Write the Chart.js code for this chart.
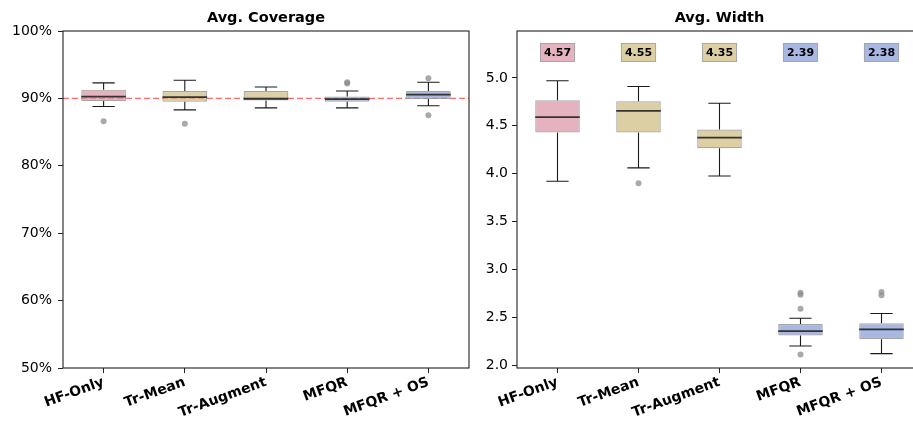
<!DOCTYPE html>
<html>
<head>
<meta charset="utf-8">
<script src="https://cdn.jsdelivr.net/npm/chart.js@4/dist/chart.umd.min.js"></script>
<style>
  html, body { margin: 0; padding: 0; background: #fff; overflow: hidden; }
  #wrap { position: relative; width: 913px; height: 423px; overflow: hidden; }
  #covBox { position: absolute; left: 0; top: 0; }
  #widBox { position: absolute; left: 480px; top: 0; }
</style>
</head>
<body>
<div id="wrap">
  <div id="covBox"><canvas id="cov" width="480" height="423"></canvas></div>
  <div id="widBox"><canvas id="wid" width="450" height="423"></canvas></div>
</div>
<script>
// Methods compared in both panels
const categories = ['HF-Only', 'Tr-Mean', 'Tr-Augment', 'MFQR', 'MFQR + OS'];

// Box fill per method
const boxFill = ['rgba(219,150,166,0.72)', 'rgba(207,188,128,0.72)', 'rgba(207,188,128,0.72)', 'rgba(135,157,215,0.72)', 'rgba(135,157,215,0.72)'];

// Avg. Coverage (%) summary statistics
const covQ1 = [89.6, 89.5, 89.7, 89.5, 89.9];
const covMedian = [90.25, 90.2, 89.95, 89.9, 90.55];
const covQ3 = [91.3, 91.1, 91.1, 90.3, 91.1];
const covLow = [88.8, 88.3, 88.6, 88.6, 88.9];
const covHigh = [92.3, 92.7, 91.7, 91.1, 92.4];
const covOutliers = [[86.6], [86.25], [], [92.2, 92.4], [93.0, 87.5]];
const covTarget = 90;
const covTicks = [50, 60, 70, 80, 90, 100];

// Avg. Width summary statistics
const widQ1 = [4.43, 4.43, 4.265, 2.31, 2.27];
const widMedian = [4.59, 4.655, 4.376, 2.356, 2.374];
const widQ3 = [4.767, 4.756, 4.46, 2.43, 2.437];
const widLow = [3.92, 4.06, 3.976, 2.20, 2.12];
const widHigh = [4.97, 4.91, 4.735, 2.49, 2.54];
const widOutliers = [[], [3.90], [], [2.757, 2.736, 2.59, 2.11], [2.764, 2.73]];
const widMeans = [4.57, 4.55, 4.35, 2.39, 2.38];
const widTicks = [2.0, 2.5, 3.0, 3.5, 4.0, 4.5, 5.0];
const widMeanLabelY = 5.266;

const FONT = "'DejaVu Sans', sans-serif";

// Draws the title, whiskers, caps, medians, fliers, reference line and frame
function boxPlugin(stats) {
  return {
    id: 'boxExtras',
    beforeDatasetsDraw(chart) {
      const { ctx, chartArea: a, scales } = chart;
      if (stats.refLine !== undefined) {
        const y = scales.y.getPixelForValue(stats.refLine);
        ctx.save();
        ctx.strokeStyle = 'rgba(255,80,80,0.85)';
        ctx.lineWidth = 1.3;
        ctx.setLineDash([6, 3]);
        ctx.beginPath();
        ctx.moveTo(a.left, y);
        ctx.lineTo(a.right, y);
        ctx.stroke();
        ctx.restore();
      }
    },
    afterDatasetsDraw(chart) {
      const { ctx, scales } = chart;
      const meta = chart.getDatasetMeta(0);
      ctx.save();
      meta.data.forEach((bar, i) => {
        const x = bar.x;
        const half = bar.width / 2;
        const yq1 = scales.y.getPixelForValue(stats.q1[i]);
        const yq3 = scales.y.getPixelForValue(stats.q3[i]);
        const ylo = scales.y.getPixelForValue(stats.low[i]);
        const yhi = scales.y.getPixelForValue(stats.high[i]);
        const ymed = scales.y.getPixelForValue(stats.median[i]);
        ctx.strokeStyle = '#1a1a1a';
        ctx.lineWidth = 1.1;
        ctx.beginPath();
        ctx.moveTo(x, yq3); ctx.lineTo(x, yhi);
        ctx.moveTo(x, yq1); ctx.lineTo(x, ylo);
        ctx.moveTo(x - half / 2, yhi); ctx.lineTo(x + half / 2, yhi);
        ctx.moveTo(x - half / 2, ylo); ctx.lineTo(x + half / 2, ylo);
        ctx.stroke();
        ctx.strokeStyle = '#333';
        ctx.lineWidth = 1.8;
        ctx.beginPath();
        ctx.moveTo(x - half, ymed); ctx.lineTo(x + half, ymed);
        ctx.stroke();
        ctx.fillStyle = 'rgba(140,140,140,0.75)';
        stats.outliers[i].forEach(v => {
          const y = scales.y.getPixelForValue(v);
          ctx.beginPath();
          ctx.arc(x, y, 3, 0, Math.PI * 2);
          ctx.fill();
        });
        if (stats.means) {
          const y = scales.y.getPixelForValue(stats.meanY);
          const txt = stats.means[i].toFixed(2);
          ctx.font = 'bold 11px ' + FONT;
          const w = ctx.measureText(txt).width + 7;
          const h = 18;
          ctx.fillStyle = stats.fill[i];
          ctx.fillRect(x - w / 2, y - h / 2, w, h);
          ctx.strokeStyle = 'rgba(150,150,150,0.8)';
          ctx.lineWidth = 1;
          ctx.strokeRect(x - w / 2, y - h / 2, w, h);
          ctx.fillStyle = '#000';
          ctx.textAlign = 'center';
          ctx.textBaseline = 'middle';
          ctx.fillText(txt, x, y + 0.5);
        }
      });
      ctx.restore();
    },
    afterDraw(chart) {
      const { ctx, chartArea: a } = chart;
      ctx.save();
      ctx.strokeStyle = '#222';
      ctx.lineWidth = 1.1;
      ctx.strokeRect(a.left, a.top, a.right - a.left, a.bottom - a.top);
      ctx.font = 'bold 14.5px ' + FONT;
      ctx.fillStyle = '#000';
      ctx.textAlign = 'center';
      ctx.textBaseline = 'middle';
      ctx.fillText(stats.title, (a.left + a.right) / 2, 18);
      ctx.restore();
    }
  };
}

function makeBoxChart(canvasId, opts) {
  return new Chart(document.getElementById(canvasId), {
    type: 'bar',
    data: {
      labels: categories,
      datasets: [{
        data: opts.q1.map((v, i) => [v, opts.q3[i]]),
        backgroundColor: opts.fill,
        borderColor: 'rgba(150,150,150,0.85)',
        borderWidth: 1.2,
        borderSkipped: false,
        categoryPercentage: 1,
        barPercentage: 0.55
      }]
    },
    options: {
      responsive: false,
      animation: false,
      devicePixelRatio: 1,
      layout: { padding: { left: 0, right: opts.padRight, top: 31, bottom: 0 } },
      plugins: {
        legend: { display: false },
        tooltip: { enabled: false },
        title: { display: false }
      },
      scales: {
        x: {
          offset: true,
          border: { display: false },
          grid: { display: true, offset: false, drawOnChartArea: false, drawTicks: true, tickLength: 5, color: '#222' },
          ticks: {
            color: '#000',
            font: { family: FONT, size: 14, weight: 'bold' },
            minRotation: 20,
            maxRotation: 20,
            padding: 1
          },
          afterFit(scale) { scale.height = 55; }
        },
        y: {
          min: opts.min,
          max: opts.max,
          border: { display: false },
          grid: { display: true, drawOnChartArea: false, drawTicks: true, tickLength: 5, color: '#222' },
          afterBuildTicks(scale) { scale.ticks = opts.ticks.map(v => ({ value: v })); },
          ticks: {
            color: '#000',
            font: { family: FONT, size: 14 },
            padding: opts.tickPad,
            callback: opts.tickFormat
          },
          afterFit(scale) { scale.width = opts.yWidth; }
        }
      }
    },
    plugins: [boxPlugin(opts)]
  });
}

makeBoxChart('cov', {
  title: 'Avg. Coverage',
  q1: covQ1, q3: covQ3, median: covMedian, low: covLow, high: covHigh,
  outliers: covOutliers, fill: boxFill, refLine: covTarget,
  min: 50, max: 100, ticks: covTicks, yWidth: 63, padRight: 11, tickPad: 6,
  tickFormat: v => v + '%'
});

makeBoxChart('wid', {
  title: 'Avg. Width',
  q1: widQ1, q3: widQ3, median: widMedian, low: widLow, high: widHigh,
  outliers: widOutliers, fill: boxFill, means: widMeans, meanY: widMeanLabelY,
  min: 1.97, max: 5.49, ticks: widTicks, yWidth: 37, padRight: 8, tickPad: 4,
  tickFormat: v => Number(v).toFixed(1)
});
</script>
</body>
</html>
